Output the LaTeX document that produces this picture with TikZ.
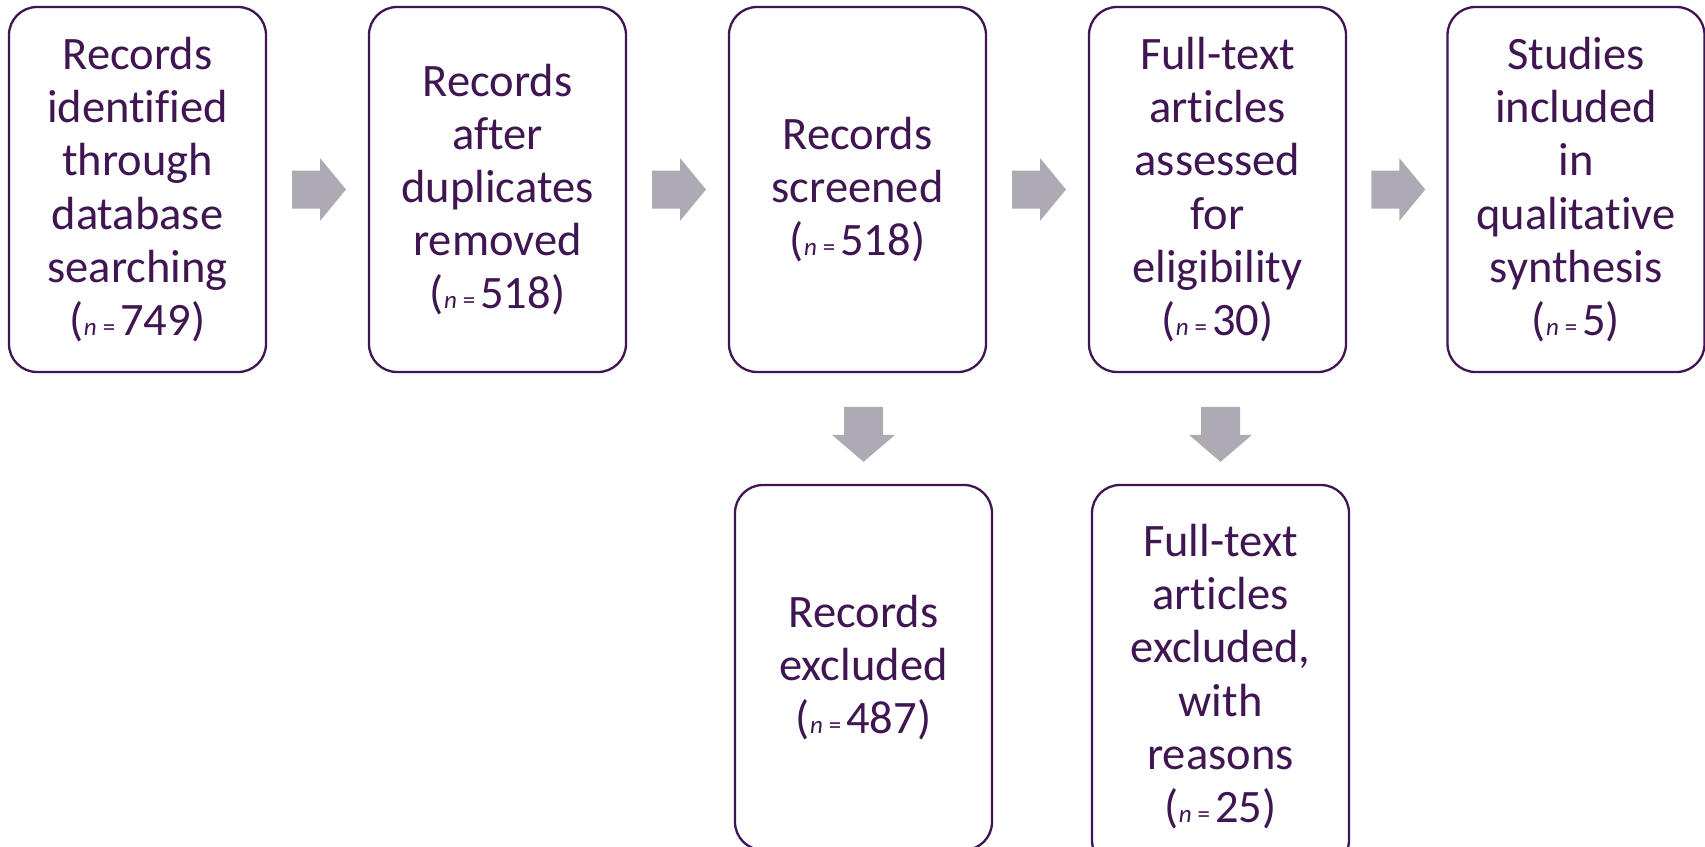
\documentclass[tikz,border=0pt]{standalone}
\usepackage{fontspec}
\setmainfont{Carlito}[Ligatures=NoCommon]
\usetikzlibrary{calc}
\definecolor{txtpurple}{HTML}{3F1552}
\definecolor{arrowgray}{HTML}{AEAAB3}
\newcommand\nval[1]{({\fontsize{25}{25}\selectfont\itshape n\/\hspace{6pt}\upshape=}\hspace{5pt}#1)}
\newcommand\myRightArrow[1]{\fill[arrowgray] ($(#1)+(-27,-19)$) -- ($(#1)+(1,-19)$) -- ($(#1)+(1,-31.5)$) -- ($(#1)+(27,0)$) -- ($(#1)+(1,31.5)$) -- ($(#1)+(1,19)$) -- ($(#1)+(-27,19)$) -- cycle;}
\newcommand\myDownArrow[1]{\fill[arrowgray] ($(#1)+(-19.5,-27.5)$) -- ($(#1)+(19.5,-27.5)$) -- ($(#1)+(19.5,0.5)$) -- ($(#1)+(31.5,0.5)$) -- ($(#1)+(0,27.5)$) -- ($(#1)+(-31.5,0.5)$) -- ($(#1)+(-19.5,0.5)$) -- cycle;}
\begin{document}
\begin{tikzpicture}[x=1pt,y=-1pt,
  flowbox/.style={draw=txtpurple, line width=2.3pt, rounded corners=28pt, fill=white,
    minimum width=257pt, minimum height=365pt, inner sep=0pt, align=center,
    text=txtpurple, font=\fontsize{46.5}{53.2}\selectfont}]
\useasboundingbox (0,0) rectangle (1705,846);
\clip (0,0) rectangle (1705,846);
\node[flowbox] (b1) at (137.5,189.5) {Records\\identified\\through\\database\\searching\\\nval{749}};
\node[flowbox] (b2) at (497.5,189.5) {Records\\after\\duplicates\\removed\\\nval{518}};
\node[flowbox] (b3) at (857.5,189.5) {Records\\screened\\\nval{518}};
\node[flowbox] (b4) at (1217.5,189.5) {Full-text\\articles\\assessed\\for\\eligibility\\\nval{30}};
\node[flowbox] (b5) at (1576,189.5) {Studies\\included\\in\\qualitative\\synthesis\\\nval{5}};
\node[flowbox] (b6) at (863.5,667.5) {Records\\excluded\\\nval{487}};
\node[flowbox, minimum height=383pt] (b7) at (1220.5,676.5) {Full-text\\articles\\excluded,\\with\\reasons\\\nval{25}};
\coordinate (a12) at ($(b1.east)!0.5!(b2.west)+(1.5,0)$);
\coordinate (a23) at ($(b2.east)!0.5!(b3.west)+(1.5,0)$);
\coordinate (a34) at ($(b3.east)!0.5!(b4.west)+(1.5,0)$);
\coordinate (a45) at ($(b4.east)!0.5!(b5.west)+(1.5,0)$);
\coordinate (a36) at ($(b6.north)+(0,-49.5)$);
\coordinate (a47) at ($(b7.north)+(0,-49.5)$);
\myRightArrow{a12}
\myRightArrow{a23}
\myRightArrow{a34}
\myRightArrow{a45}
\myDownArrow{a36}
\myDownArrow{a47}
\end{tikzpicture}
\end{document}
